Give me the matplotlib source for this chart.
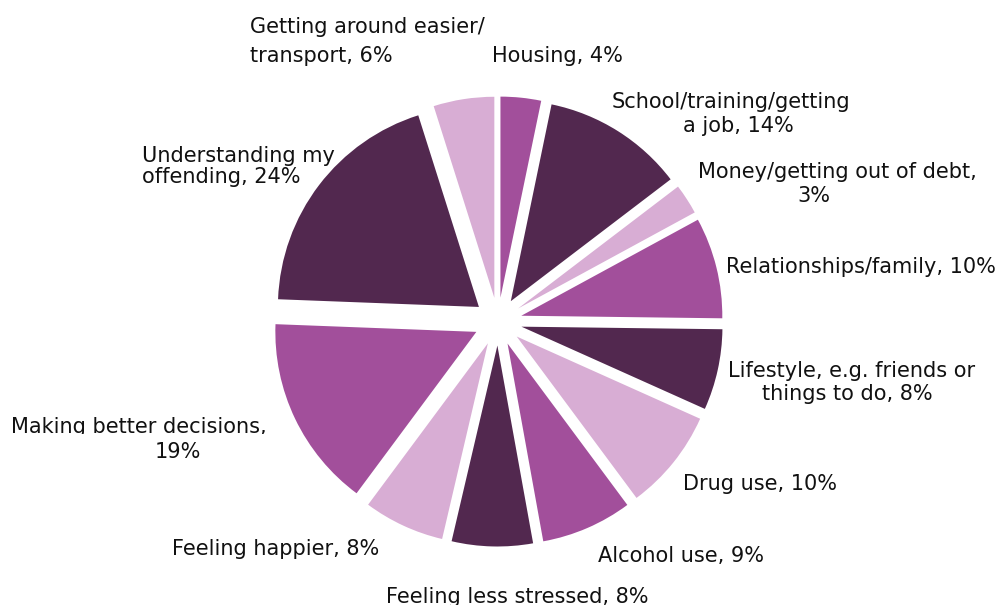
import matplotlib
matplotlib.use("Agg")
import matplotlib.pyplot as plt
from matplotlib.patches import Rectangle

# Survey responses: what the programme helped with (multiple answers allowed)
categories = [
    "Housing",
    "School/training/getting a job",
    "Money/getting out of debt",
    "Relationships/family",
    "Lifestyle, e.g. friends or things to do",
    "Drug use",
    "Alcohol use",
    "Feeling less stressed",
    "Feeling happier",
    "Making better decisions",
    "Understanding my offending",
    "Getting around easier/transport",
]
percentages = [4, 14, 3, 10, 8, 10, 9, 8, 8, 19, 24, 6]

# Label lines as wrapped on the chart
label_lines = [
    ["Housing, 4%"],
    ["School/training/getting", "a job, 14%"],
    ["Money/getting out of debt,", "3%"],
    ["Relationships/family, 10%"],
    ["Lifestyle, e.g. friends or", "things to do, 8%"],
    ["Drug use, 10%"],
    ["Alcohol use, 9%"],
    ["Feeling less stressed, 8%"],
    ["Feeling happier, 8%"],
    ["Making better decisions,", "19%"],
    ["Understanding my", "offending, 24%"],
    ["Getting around easier/", "transport, 6%"],
]

# Placement of each label line: (x, baseline y from top, horizontal alignment)
label_pos = [
    [(492, 62, "left")],
    [(731, 108, "center"), (738, 132, "center")],
    [(837, 178, "center"), (814, 202, "center")],
    [(726, 273, "left")],
    [(852, 377, "center"), (847, 400, "center")],
    [(683, 490, "left")],
    [(681, 562, "center")],
    [(517, 603, "center")],
    [(276, 555, "center")],
    [(139, 433, "center"), (178, 458, "center")],
    [(142, 162, "left"), (142, 183, "left")],
    [(250, 33, "left"), (250, 62, "left")],
]

MEDIUM = "#A24F9B"
DARK = "#52284F"
LIGHT = "#D8ADD4"
colors = [MEDIUM, DARK, LIGHT] * 4

W, H = 1003, 605
RADIUS = 201
OFFSET = 24  # radial gap for each wedge, in pixels
fig = plt.figure(figsize=(W / 100, H / 100), dpi=100)
ax = fig.add_axes([0, 0, 1, 1])

# pie() offsets exploded wedges in data units
ax.pie(
    percentages,
    colors=colors,
    startangle=90,
    counterclock=False,
    center=(498, H - 321.5),
    radius=RADIUS,
    explode=[OFFSET] * len(percentages),
    wedgeprops=dict(linewidth=0),
    frame=True,
)
ax.set_xlim(0, W)
ax.set_ylim(0, H)
ax.set_aspect("equal")
ax.axis("off")

for lines, positions in zip(label_lines, label_pos):
    for text, (x, y, ha) in zip(lines, positions):
        t = ax.text(x, H - y, text, ha=ha, va="baseline", fontsize=15,
                    family="DejaVu Sans", color="#111111")
        if text == "Making better decisions,":
            clip = Rectangle((0, H - 434), 400, 60, transform=ax.transData)
            t.set_clip_path(clip)
            t.set_clip_on(True)

fig.savefig("out.png", dpi=100, facecolor="white")
